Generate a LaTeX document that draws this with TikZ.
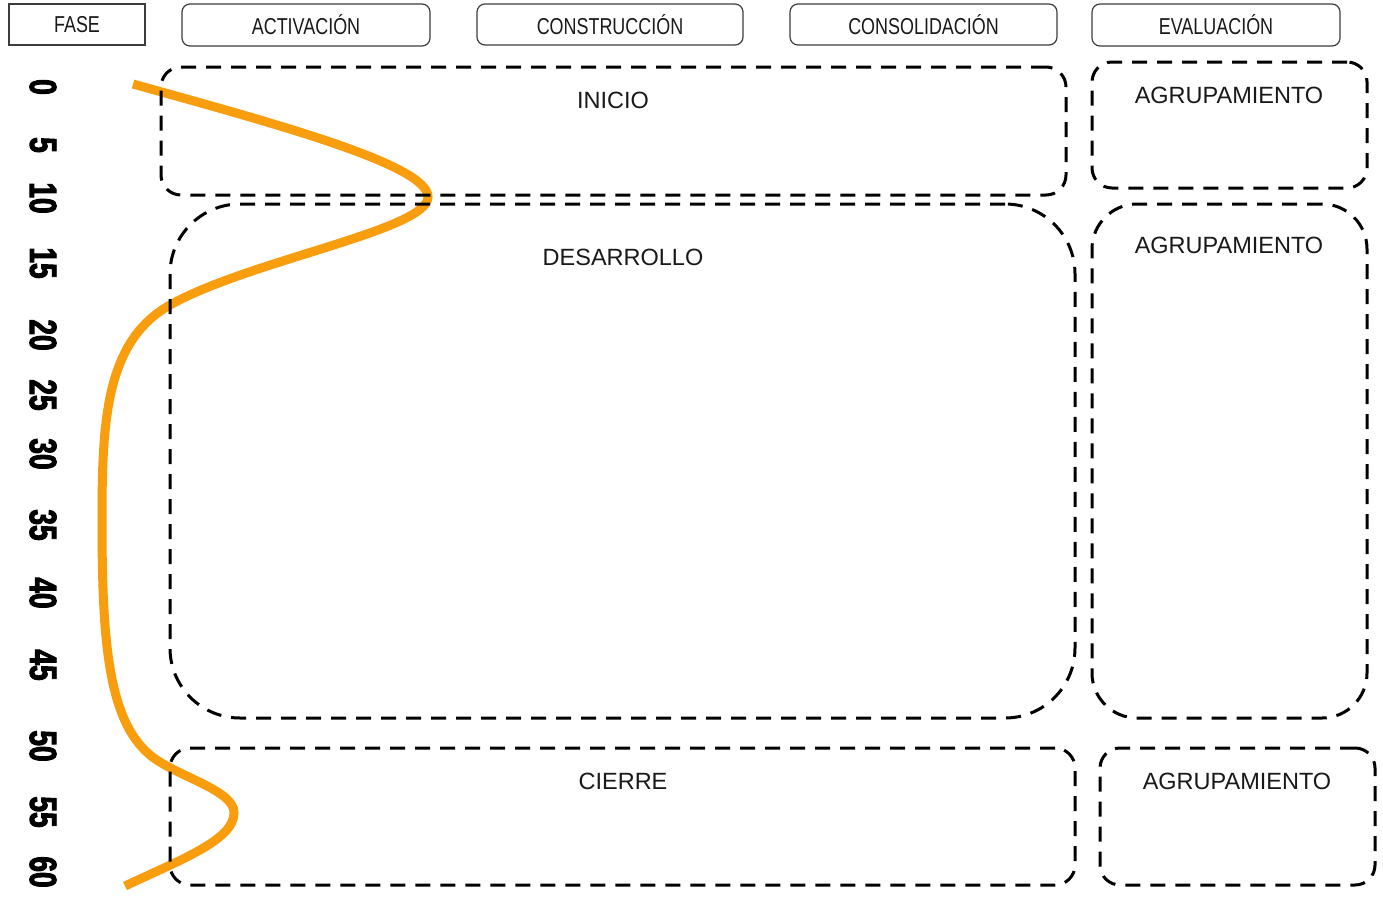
\documentclass[tikz,border=0pt]{standalone}
\usepackage{fontspec}
\setmainfont{Liberation Sans}
\newfontfamily\hdrfont[FakeStretch=0.78]{Liberation Sans}
\newfontfamily\numfont[FakeStretch=0.74,FakeBold=2.5]{Liberation Sans Bold}
\definecolor{curveorange}{RGB}{248,157,14}
\definecolor{hdrline}{RGB}{60,60,60}
\definecolor{txtdark}{RGB}{25,25,25}
\tikzset{
  hdrbox/.style={draw=hdrline, line width=1.2pt, rounded corners=8pt, inner sep=0pt},
  hdrsq/.style={draw=hdrline, line width=1.2pt, inner sep=0pt},
  hdrtext/.style={font=\hdrfont\fontsize{23}{24}\selectfont, text=txtdark},
  zone/.style={draw=black, line width=3pt, dash pattern=on 15pt off 10pt, inner sep=0pt},
  zonetext/.style={font=\fontsize{23.5}{24}\selectfont, text=txtdark},
  minute/.style={font=\numfont\fontsize{38}{38}\selectfont, rotate=-90, inner sep=0pt},
  timecurve/.style={draw=curveorange, line width=9pt}
}
\begin{document}
\begin{tikzpicture}[x=1pt,y=-1pt]
\useasboundingbox (0,0) rectangle (1383,897);
\fill[white] (0,0) rectangle (1383,897);

% header
\node[hdrsq, minimum width=136pt, minimum height=41pt] (fase) at (77,24.5) {};
\node[hdrtext] (tfase) at (fase.center) {FASE};
\node[hdrbox, minimum width=248pt, minimum height=42pt] (activ) at (306,25) {};
\node[hdrtext] (tactiv) at (activ.center) {ACTIVACIÓN};
\node[hdrbox, minimum width=266pt, minimum height=41pt] (constr) at (610,24.5) {};
\node[hdrtext] (tconstr) at (constr.center) {CONSTRUCCIÓN};
\node[hdrbox, minimum width=267pt, minimum height=41pt] (consol) at (923.5,24.5) {};
\node[hdrtext] (tconsol) at (consol.center) {CONSOLIDACIÓN};
\node[hdrbox, minimum width=248pt, minimum height=42pt] (evalu) at (1216,25) {};
\node[hdrtext] (tevalu) at (evalu.center) {EVALUACIÓN};

% minutes
\node[minute] (m0)  at (43,87)  {0};
\node[minute] (m5)  at (43,145) {5};
\node[minute] (m10) at (43,198) {10};
\node[minute] (m15) at (43,263) {15};
\node[minute] (m20) at (43,335) {20};
\node[minute] (m25) at (43,395) {25};
\node[minute] (m30) at (43,454) {30};
\node[minute] (m35) at (43,525) {35};
\node[minute] (m40) at (43,593) {40};
\node[minute] (m45) at (43,665) {45};
\node[minute] (m50) at (43,746) {50};
\node[minute] (m55) at (43,812) {55};
\node[minute] (m60) at (43,872) {60};

% orange curve
\draw[timecurve] (133,84) .. controls (280,125) and (428,165) .. (428,197)
  .. controls (428,230) and (250,260) .. (170,305)
  .. controls (106,341) and (102,420) .. (102,520)
  .. controls (102,640) and (108,720) .. (150,755)
  .. controls (175,776) and (235,790) .. (234,813)
  .. controls (234,840) and (180,860) .. (125,886);

% zones
\node[zone, rounded corners=20pt, minimum width=905pt, minimum height=128pt] (inicio) at (613.5,131) {};
\node[zonetext] (tinicio) at (613,100) {INICIO};
\node[zone, rounded corners=70pt, minimum width=905pt, minimum height=514pt] (desarrollo) at (622.5,461) {};
\node[zonetext] (tdesarrollo) at (623,257) {DESARROLLO};
\node[zone, rounded corners=20pt, minimum width=905pt, minimum height=137pt] (cierre) at (622.5,816.5) {};
\node[zonetext] (tcierre) at (623,781) {CIERRE};

\node[zone, rounded corners=20pt, minimum width=275pt, minimum height=126pt] (agr1) at (1229.5,125) {};
\node[zonetext] (tagr1) at (1229,95) {AGRUPAMIENTO};
\node[zone, rounded corners=45pt, minimum width=275pt, minimum height=514pt] (agr2) at (1229.5,461) {};
\node[zonetext] (tagr2) at (1229,245) {AGRUPAMIENTO};
\node[zone, rounded corners=20pt, minimum width=275pt, minimum height=137pt] (agr3) at (1237.5,816.5) {};
\node[zonetext] (tagr3) at (1237,781) {AGRUPAMIENTO};
\end{tikzpicture}
\end{document}
